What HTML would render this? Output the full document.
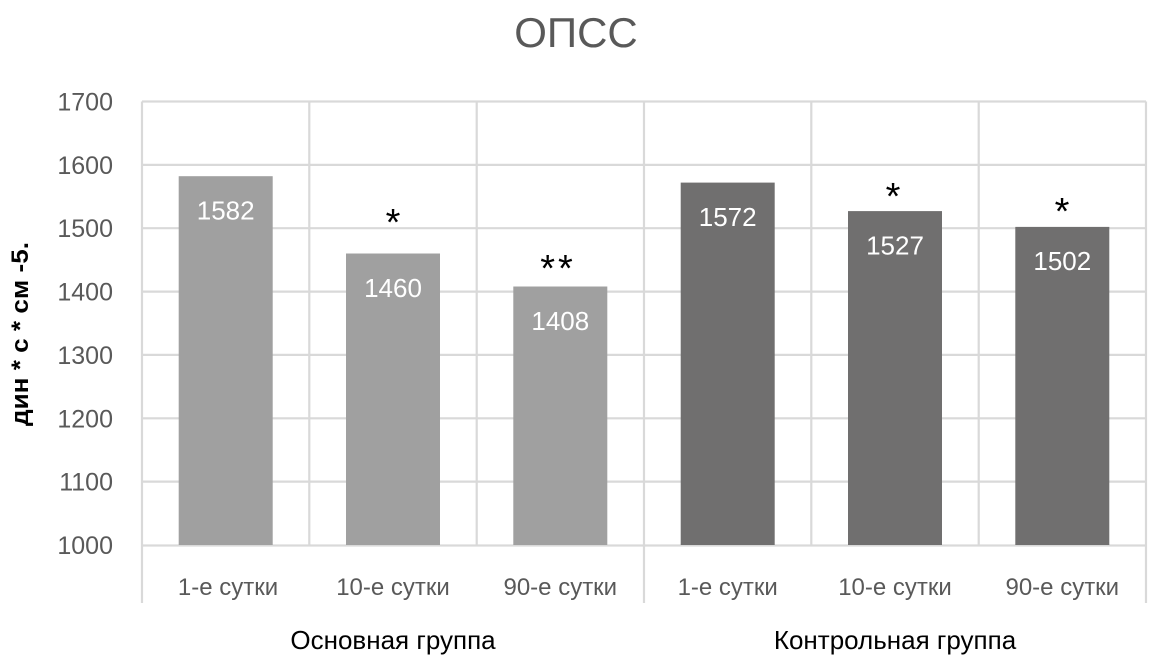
<!DOCTYPE html>
<html>
<head>
<meta charset="utf-8">
<style>
  html,body{margin:0;padding:0;background:#fff;}
  svg{display:block;}
  text{font-family:"Liberation Sans","DejaVu Sans",sans-serif;}
</style>
</head>
<body>
<svg width="1156" height="661" viewBox="0 0 1156 661" xmlns="http://www.w3.org/2000/svg">
  <rect width="1156" height="661" fill="#fff"/>
  <!-- Title -->
  <text x="576" y="47" font-size="42" fill="#595959" text-anchor="middle">ОПСС</text>

  <!-- gridlines -->
  <g stroke="#d9d9d9" stroke-width="2.2">
    <line x1="142" y1="101.5" x2="1146" y2="101.5"/>
    <line x1="142" y1="164.9" x2="1146" y2="164.9"/>
    <line x1="142" y1="228.2" x2="1146" y2="228.2"/>
    <line x1="142" y1="291.6" x2="1146" y2="291.6"/>
    <line x1="142" y1="354.9" x2="1146" y2="354.9"/>
    <line x1="142" y1="418.3" x2="1146" y2="418.3"/>
    <line x1="142" y1="481.6" x2="1146" y2="481.6"/>
    <line x1="142" y1="545.5" x2="1146" y2="545.5"/>
    <line x1="142" y1="101.5" x2="142" y2="603"/>
    <line x1="309.3" y1="101.5" x2="309.3" y2="545.5"/>
    <line x1="476.7" y1="101.5" x2="476.7" y2="545.5"/>
    <line x1="644" y1="101.5" x2="644" y2="603"/>
    <line x1="811.3" y1="101.5" x2="811.3" y2="545.5"/>
    <line x1="978.7" y1="101.5" x2="978.7" y2="545.5"/>
    <line x1="1146" y1="101.5" x2="1146" y2="603"/>
  </g>

  <!-- bars -->
  <g>
    <rect x="178.7" y="176.2" width="94" height="368.8" fill="#a0a0a0"/>
    <rect x="346" y="253.5" width="94" height="291.5" fill="#a0a0a0"/>
    <rect x="513.3" y="286.5" width="94" height="258.5" fill="#a0a0a0"/>
    <rect x="680.7" y="182.6" width="94" height="362.4" fill="#706f6f"/>
    <rect x="848" y="211.1" width="94" height="333.9" fill="#706f6f"/>
    <rect x="1015.3" y="226.9" width="94" height="318.1" fill="#706f6f"/>
  </g>

  <!-- value labels -->
  <g font-size="26" fill="#ffffff" text-anchor="middle">
    <text x="225.7" y="219.5">1582</text>
    <text x="393" y="296.8">1460</text>
    <text x="560.3" y="329.8">1408</text>
    <text x="727.7" y="225.9">1572</text>
    <text x="895" y="254.4">1527</text>
    <text x="1062.3" y="270.2">1502</text>
  </g>

  <!-- asterisks -->
  <g font-size="38" fill="#000" text-anchor="middle">
    <text x="393" y="235">*</text>
    <text x="558" y="281" letter-spacing="3">**</text>
    <text x="893" y="209">*</text>
    <text x="1062" y="224">*</text>
  </g>

  <!-- y tick labels -->
  <g font-size="25" fill="#595959" text-anchor="end">
    <text x="113" y="110.5">1700</text>
    <text x="113" y="173.9">1600</text>
    <text x="113" y="237.2">1500</text>
    <text x="113" y="300.6">1400</text>
    <text x="113" y="363.9">1300</text>
    <text x="113" y="427.3">1200</text>
    <text x="113" y="490.6">1100</text>
    <text x="113" y="554">1000</text>
  </g>

  <!-- y axis title -->
  <text x="0" y="0" font-size="24" font-weight="bold" fill="#000" text-anchor="middle" textLength="184" lengthAdjust="spacingAndGlyphs" transform="translate(28,334) rotate(-90)">дин * с * см -5.</text>

  <!-- category labels -->
  <g font-size="24" fill="#595959" text-anchor="middle">
    <text x="228" y="595">1-е сутки</text>
    <text x="393" y="595">10-е сутки</text>
    <text x="560.3" y="595">90-е сутки</text>
    <text x="727.7" y="595">1-е сутки</text>
    <text x="895" y="595">10-е сутки</text>
    <text x="1062.3" y="595">90-е сутки</text>
  </g>

  <!-- group labels -->
  <g font-size="26" fill="#000" text-anchor="middle">
    <text x="393" y="649">Основная группа</text>
    <text x="895" y="649">Контрольная группа</text>
  </g>
</svg>
</body>
</html>
